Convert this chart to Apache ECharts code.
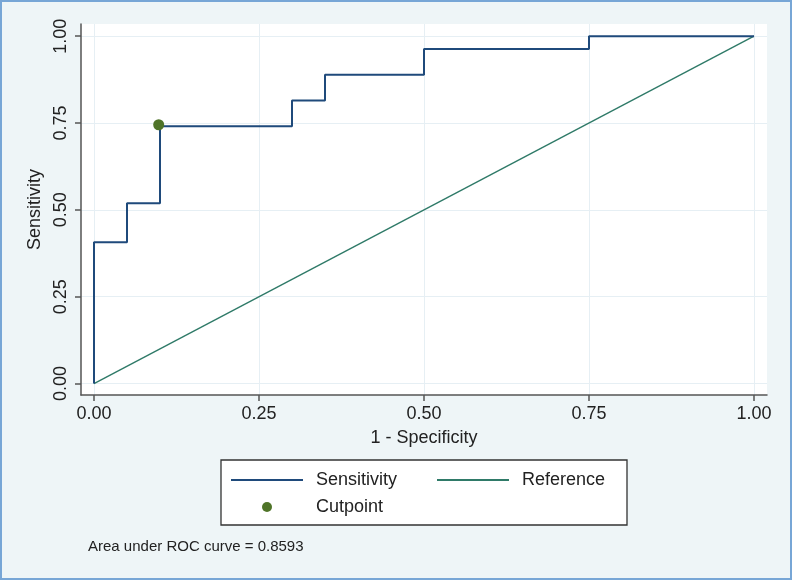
<!DOCTYPE html>
<html>
<head>
<meta charset="utf-8">
<script src="https://cdn.jsdelivr.net/npm/echarts@6/dist/echarts.min.js"></script>
<style>
html,body{margin:0;padding:0;background:#eef5f7;}
#chart{width:792px;height:580px;}
</style>
</head>
<body>
<div id="chart"></div>
<script>
// ROC curve vertices (1 - specificity, sensitivity)
var fpr  = [0, 0, 0.05, 0.05, 0.10, 0.10, 0.30, 0.30, 0.35, 0.35, 0.50, 0.50, 0.75, 0.75, 1.00];
var sens = [0, 0.407, 0.407, 0.519, 0.519, 0.741, 0.741, 0.815, 0.815, 0.889, 0.889, 0.963, 0.963, 1.00, 1.00];
var refX = [0, 1];
var refY = [0, 1];
var cutX = [0.098];
var cutY = [0.745];
var tickValues = [0, 0.25, 0.5, 0.75, 1];
var aucText = 'Area under ROC curve = 0.8593';

var FONT = '"Liberation Sans", Arial, Helvetica, sans-serif';
function zip(a, b) { return a.map(function (v, i) { return [v, b[i]]; }); }
function fmt(v) { return Number(v).toFixed(2); }

var chart = echarts.init(document.getElementById('chart'), null, {renderer: 'canvas'});
chart.setOption({
  backgroundColor: '#eef5f7',
  animation: false,
  textStyle: {fontFamily: FONT},
  grid: {left: 81, right: 25, top: 24, bottom: 185, show: true, backgroundColor: '#ffffff', borderWidth: 0},
  xAxis: {
    type: 'value', min: -0.0197, max: 1.0197,
    name: '1 - Specificity', nameLocation: 'middle', nameGap: 34,
    nameTextStyle: {fontSize: 18, color: '#222', fontFamily: FONT},
    axisLine: {show: true, onZero: false, lineStyle: {color: '#555', width: 1.5}},
    axisTick: {show: true, length: 6, customValues: tickValues, lineStyle: {color: '#555', width: 1.5}},
    axisLabel: {customValues: tickValues, formatter: fmt, fontSize: 18, color: '#222', margin: 10, fontFamily: FONT},
    splitLine: {show: true, lineStyle: {color: '#e6eff4', width: 1}}
  },
  yAxis: {
    type: 'value', min: -0.033, max: 1.035,
    name: 'Sensitivity', nameLocation: 'middle', nameGap: 31, nameRotate: 90,
    nameTextStyle: {fontSize: 18, color: '#222', fontFamily: FONT},
    axisLine: {show: true, onZero: false, lineStyle: {color: '#555', width: 1.5}},
    axisTick: {show: true, length: 6, customValues: tickValues, lineStyle: {color: '#555', width: 1.5}},
    axisLabel: {customValues: tickValues, formatter: fmt, fontSize: 18, color: '#222', margin: 11, rotate: 90, fontFamily: FONT},
    splitLine: {show: true, lineStyle: {color: '#e6eff4', width: 1}}
  },
  legend: [
    {
      left: 231, top: 470, padding: 0, itemGap: 13,
      itemWidth: 72, itemHeight: 2, icon: 'rect',
      data: ['Sensitivity', 'Reference'],
      textStyle: {fontSize: 18, color: '#222', fontFamily: FONT, width: 108, lineHeight: 20, padding: [0, 0, 0, 8]}
    },
    {
      left: 262, top: 497, padding: 0,
      itemWidth: 10, itemHeight: 10, icon: 'circle',
      itemStyle: {opacity: 1},
      data: ['Cutpoint'],
      textStyle: {fontSize: 18, color: '#222', fontFamily: FONT, lineHeight: 20, padding: [0, 0, 0, 39]}
    }
  ],
  graphic: [
    {type: 'rect', x: 1, y: 1, z: -10, silent: true, shape: {width: 790, height: 578},
     style: {fill: 'none', stroke: '#77a6d6', lineWidth: 2}},
    {type: 'rect', x: 221, y: 460, z: -1, silent: true, shape: {width: 406, height: 65},
     style: {fill: '#ffffff', stroke: '#333333', lineWidth: 1.3}},
    {type: 'text', x: 88, y: 539, silent: true, style: {text: aucText, font: '15px ' + FONT, fill: '#222'}}
  ],
  series: [
    {
      name: 'Sensitivity', type: 'line', data: zip(fpr, sens), symbol: 'none', z: 3,
      itemStyle: {color: '#1f4a7b'}, lineStyle: {color: '#1f4a7b', width: 2}
    },
    {
      name: 'Reference', type: 'line', data: zip(refX, refY), symbol: 'none', z: 2,
      itemStyle: {color: '#2f7a68'}, lineStyle: {color: '#2f7a68', width: 1.4}
    },
    {
      name: 'Cutpoint', type: 'scatter', data: zip(cutX, cutY), symbol: 'circle', symbolSize: 11, z: 4,
      itemStyle: {color: '#4f7428', opacity: 1}
    }
  ]
});
</script>
</body>
</html>
